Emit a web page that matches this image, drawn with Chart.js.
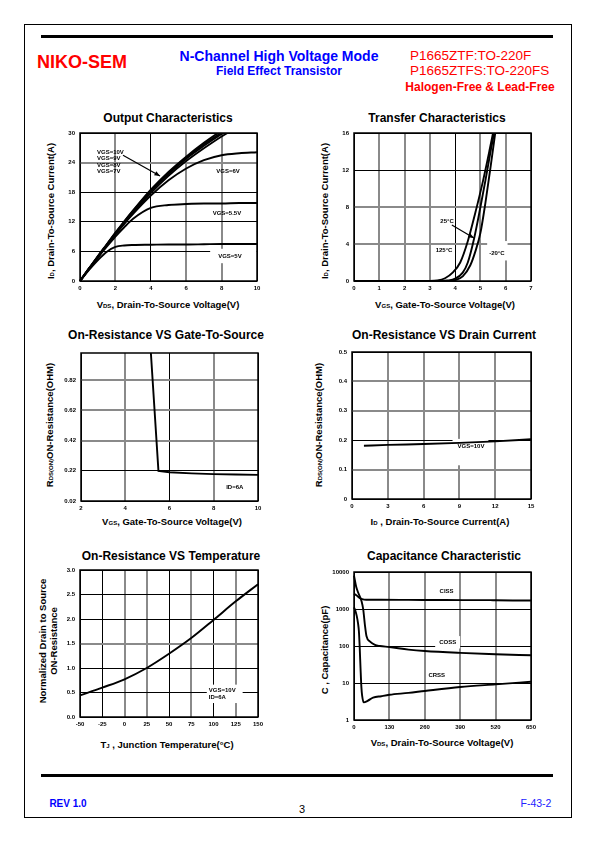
<!DOCTYPE html>
<html>
<head>
<meta charset="utf-8">
<script src="https://cdn.jsdelivr.net/npm/chart.js@4.4.1/dist/chart.umd.min.js"></script>
<style>
body{margin:0;background:#fff;width:595px;height:842px;position:relative;overflow:hidden;font-family:"Liberation Sans",Arial,sans-serif;color:#000}
.a{position:absolute;white-space:nowrap;transform:translate(-50%,-50%);line-height:1}
.v{transform:translate(-50%,-50%) rotate(-90deg)}
.ttl{font-weight:bold;font-size:12px}
.ax{font-weight:bold;font-size:9.5px}
.ax small{font-size:6px}
canvas{position:absolute}
.rule{position:absolute;left:41px;width:512px;height:3px;background:#000}
</style>
</head>
<body>
<div style="position:absolute;left:24px;top:24px;width:546px;height:792px;border:1px solid #000"></div>
<div class="rule" style="top:35px"></div>
<div class="rule" style="top:774px"></div>

<div class="a" style="left:82px;top:62px;color:#f00;font-weight:bold;font-size:18px">NIKO-SEM</div>
<div class="a" style="left:279px;top:56px;color:#00f;font-weight:bold;font-size:14px">N-Channel High Voltage Mode</div>
<div class="a" style="left:279px;top:71px;color:#00f;font-weight:bold;font-size:12px">Field Effect Transistor</div>
<div class="a" style="left:410px;top:56px;color:#f00;font-size:13.5px;transform:translate(0,-50%)">P1665ZTF:TO-220F</div>
<div class="a" style="left:410px;top:71px;color:#f00;font-size:13.5px;transform:translate(0,-50%)">P1665ZTFS:TO-220FS</div>
<div class="a" style="left:480px;top:87px;color:#f00;font-weight:bold;font-size:12px">Halogen-Free &amp; Lead-Free</div>

<div class="a ttl" style="left:168px;top:118px">Output Characteristics</div>
<div class="a ttl" style="left:437px;top:118px">Transfer Characteristics</div>
<div class="a ttl" style="left:166px;top:335px">On-Resistance VS Gate-To-Source</div>
<div class="a ttl" style="left:444px;top:335px">On-Resistance VS Drain Current</div>
<div class="a ttl" style="left:171px;top:556px">On-Resistance VS Temperature</div>
<div class="a ttl" style="left:444px;top:556px">Capacitance Characteristic</div>

<div class="a ax v" style="left:51px;top:211px">I<small>D</small>, Drain-To-Source Current(A)</div>
<div class="a ax" style="left:168px;top:305px">V<small>DS</small>, Drain-To-Source Voltage(V)</div>
<div class="a ax v" style="left:325px;top:211px">I<small>D</small>, Drain-To-Source Current(A)</div>
<div class="a ax" style="left:445px;top:305px">V<small>GS</small>, Gate-To-Source Voltage(V)</div>
<div class="a ax v" style="left:50px;top:425px">R<small>DS(ON)</small>ON-Resistance(OHM)</div>
<div class="a ax" style="left:172px;top:522px">V<small>GS</small>, Gate-To-Source Voltage(V)</div>
<div class="a ax v" style="left:319px;top:425px">R<small>DS(ON)</small>ON-Resistance(OHM)</div>
<div class="a ax" style="left:440px;top:522px">I<small>D</small> , Drain-To-Source Current(A)</div>
<div class="a ax v" style="left:43px;top:641px">Normalized Drain to Source</div>
<div class="a ax v" style="left:54px;top:641px">ON-Resistance</div>
<div class="a ax" style="left:167px;top:745px">T<small>J</small> , Junction Temperature(°C)</div>
<div class="a ax v" style="left:325px;top:650px">C , Capacitance(pF)</div>
<div class="a ax" style="left:442px;top:743px">V<small>DS</small>, Drain-To-Source Voltage(V)</div>

<canvas id="c1"></canvas>
<canvas id="c2"></canvas>
<canvas id="c3"></canvas>
<canvas id="c4"></canvas>
<canvas id="c5"></canvas>
<canvas id="c6"></canvas>

<div class="a" style="left:68px;top:804px;color:#00f;font-weight:bold;font-size:10px">REV 1.0</div>
<div class="a" style="left:302px;top:809px;font-size:11px">3</div>
<div class="a" style="left:536px;top:803px;color:#22f;font-size:10.5px">F-43-2</div>

<script>
// Output Characteristics
const outVds = [0, 0.5, 1, 1.5, 2, 2.5, 3, 4, 5, 6, 7, 8, 9, 10];
const outVgs10 = [0, 2.5, 5.0, 7.4, 9.8, 12.1, 14.3, 18.5, 22.1, 25.2, 28.0, 30.5, 32.8, 35.0];
const outVgs9 = [0, 2.5, 4.9, 7.3, 9.7, 12.0, 14.2, 18.3, 21.9, 25.0, 27.7, 30.1, 32.4, 34.6];
const outVgs8 = [0, 2.5, 4.9, 7.3, 9.6, 11.9, 14.1, 18.2, 21.7, 24.8, 27.4, 29.8, 32.0, 34.2];
const outVgs7 = [0, 2.4, 4.8, 7.2, 9.5, 11.7, 13.8, 17.8, 21.3, 24.3, 26.9, 29.3, 31.4, 33.5];
const outVgs6 = [0, 2.4, 4.8, 7.2, 9.5, 11.6, 13.6, 17.3, 20.4, 22.8, 24.5, 25.5, 25.9, 26.1];
const outVgs55 = [0, 2.4, 4.7, 6.9, 9.0, 10.9, 12.6, 14.8, 15.4, 15.6, 15.7, 15.7, 15.8, 15.8];
const outVgs5 = [0, 2.2, 4.2, 5.9, 6.9, 7.2, 7.3, 7.35, 7.4, 7.4, 7.45, 7.5, 7.5, 7.5];
const outXTicks = [0, 2, 4, 6, 8, 10];
const outXLabels = ['0', '2', '4', '6', '8', '10'];
const outYTicks = [0, 6, 12, 18, 24, 30];
const outYLabels = ['0', '6', '12', '18', '24', '30'];

// Transfer Characteristics
const trV125 = [0, 3.0, 3.3, 3.6, 3.9, 4.2, 4.5, 4.8, 5.1, 5.35, 5.52];
const trI125 = [0, 0, 0.05, 0.3, 0.9, 2.0, 4.3, 7.4, 10.8, 14.0, 16.3];
const trV25 = [0, 3.4, 3.7, 4.0, 4.3, 4.5, 4.75, 5.0, 5.2, 5.4, 5.56];
const trI25 = [0, 0, 0.05, 0.25, 0.9, 2.0, 4.6, 8.0, 10.9, 14.0, 16.3];
const trVm20 = [0, 3.7, 4.0, 4.3, 4.6, 4.8, 5.0, 5.2, 5.4, 5.6];
const trIm20 = [0, 0, 0.1, 0.5, 1.7, 3.2, 5.2, 8.5, 12.3, 16.3];
const trXTicks = [0, 1, 2, 3, 4, 5, 6, 7];
const trXLabels = ['0', '1', '2', '3', '4', '5', '6', '7'];
const trYTicks = [0, 4, 8, 12, 16];
const trYLabels = ['0', '4', '8', '12', '16'];

// On-Resistance VS Gate-To-Source
const rgVgs = [5.15, 5.5, 6, 7, 8, 9, 10];
const rgRds = [1.02, 0.22, 0.21, 0.203, 0.198, 0.195, 0.193];
const rgXTicks = [2, 4, 6, 8, 10];
const rgXLabels = ['2', '4', '6', '8', '10'];
const rgYTicks = [0.02, 0.22, 0.42, 0.62, 0.82];
const rgYLabels = ['0.02', '0.22', '0.42', '0.62', '0.82'];
const rgYMax = 1.0;

// On-Resistance VS Drain Current
const rdId = [1, 3, 6, 9, 12, 15];
const rdRds = [0.181, 0.184, 0.187, 0.191, 0.196, 0.203];
const rdXTicks = [0, 3, 6, 9, 12, 15];
const rdXLabels = ['0', '3', '6', '9', '12', '15'];
const rdYTicks = [0, 0.1, 0.2, 0.3, 0.4, 0.5];
const rdYLabels = ['0', '0.1', '0.2', '0.3', '0.4', '0.5'];

// On-Resistance VS Temperature
const rtTj = [-50, -25, 0, 25, 50, 75, 100, 125, 150];
const rtNorm = [0.44, 0.6, 0.77, 1.0, 1.29, 1.61, 1.98, 2.36, 2.71];
const rtXTicks = [-50, -25, 0, 25, 50, 75, 100, 125, 150];
const rtXLabels = ['-50', '-25', '0', '25', '50', '75', '100', '125', '150'];
const rtYTicks = [0, 0.5, 1, 1.5, 2, 2.5, 3];
const rtYLabels = ['0.0', '0.5', '1.0', '1.5', '2.0', '2.5', '3.0'];

// Capacitance Characteristic
const cissV = [0, 10, 20, 30, 45, 100, 200, 300, 400, 500, 520, 650];
const cissC = [2600, 2300, 2000, 1850, 1780, 1770, 1760, 1750, 1740, 1740, 1720, 1700];
const cossV = [0, 8, 16, 28, 34, 40, 46, 59, 77, 95, 130, 200, 260, 390, 520, 650];
const cossC = [8000, 4000, 2700, 1600, 960, 375, 183, 131, 107, 100, 94, 80, 73, 65, 60, 56];
const crssV = [0, 5, 10, 15, 18, 21, 24, 27, 30, 36, 50, 70, 100, 130, 200, 260, 390, 520, 650];
const crssC = [1100, 900, 650, 400, 250, 90, 25, 8, 4.5, 3.0, 3.3, 4.0, 4.4, 4.8, 5.4, 6.1, 7.8, 9.2, 10.8];
const capXTicks = [0, 130, 260, 390, 520, 650];
const capXLabels = ['0', '130', '260', '390', '520', '650'];
const capYTicks = [1, 10, 100, 1000, 10000];
const capYLabels = ['1', '10', '100', '1000', '10000'];

const FONT = '"Liberation Sans", Arial, sans-serif';
const PAD = {l: 40, t: 10, r: 14, b: 16};
const GRID = {g: ['#8a8a8a', 2], k: ['#000', 1]};

// Rahmen, Beschriftungen und Pfeile im Plotbereich
const decor = {
    id: 'decor',
    beforeDatasetsDraw(chart, args, o) {
        const {ctx, chartArea: a, scales: {x, y}} = chart;
        ctx.save();
        ctx.font = 'bold 6px ' + FONT;
        ctx.textBaseline = 'middle';
        (o.notes || []).forEach(n => {
            const px = x.getPixelForValue(n.x), py = y.getPixelForValue(n.y);
            const lh = n.lh || 6.4;
            const w = Math.max(...n.t.map(s => ctx.measureText(s).width));
            const left = n.al === 'left' ? px : px - w / 2;
            if (n.bx) {
                ctx.fillStyle = '#fff';
                ctx.fillRect(left - n.bx[0], py - lh / 2 - n.bx[1],
                    w + n.bx[0] + n.bx[2], lh * n.t.length + n.bx[1] + n.bx[3]);
            }
            ctx.fillStyle = '#000';
            ctx.textAlign = 'left';
            n.t.forEach((s, i) => ctx.fillText(s, left, py + i * lh));
        });
        ctx.strokeStyle = '#000';
        ctx.lineWidth = 1.5;
        ctx.strokeRect(a.left, a.top, a.right - a.left, a.bottom - a.top);
        ctx.restore();
    },
    afterDatasetsDraw(chart, args, o) {
        const {ctx, scales: {x, y}} = chart;
        (o.arrows || []).forEach(r => {
            const x1 = x.getPixelForValue(r[0]), y1 = y.getPixelForValue(r[1]);
            const x2 = x.getPixelForValue(r[2]), y2 = y.getPixelForValue(r[3]);
            const ang = Math.atan2(y2 - y1, x2 - x1);
            ctx.save();
            ctx.strokeStyle = '#000';
            ctx.fillStyle = '#000';
            ctx.lineWidth = 1.2;
            ctx.beginPath();
            ctx.moveTo(x1, y1);
            ctx.lineTo(x2, y2);
            ctx.stroke();
            ctx.beginPath();
            ctx.moveTo(x2, y2);
            ctx.lineTo(x2 - 6 * Math.cos(ang - 0.4), y2 - 6 * Math.sin(ang - 0.4));
            ctx.lineTo(x2 - 6 * Math.cos(ang + 0.4), y2 - 6 * Math.sin(ang + 0.4));
            ctx.closePath();
            ctx.fill();
            ctx.restore();
        });
    }
};

function axisOpts(a, isX) {
    const st = i => GRID[a.grid[i] || 'k'];
    return {
        type: a.type || 'linear',
        min: a.values[0],
        max: a.max !== undefined ? a.max : a.values[a.values.length - 1],
        afterBuildTicks: s => { s.ticks = a.values.map(v => ({value: v})); },
        afterFit: s => { if (isX) s.height = PAD.b; else s.width = PAD.l; },
        ticks: {
            autoSkip: false, maxRotation: 0, minRotation: 0,
            padding: isX ? 4 : 5, color: '#000',
            font: {family: FONT, size: 6, weight: 'bold'},
            callback: (v, i) => a.labels[i]
        },
        grid: {drawTicks: false, color: c => st(c.index)[0], lineWidth: c => st(c.index)[1]},
        border: {display: false}
    };
}

function plot(id, box, xa, ya, series, deco) {
    const cv = document.getElementById(id);
    const w = box.r - box.l + PAD.l + PAD.r, h = box.b - box.t + PAD.t + PAD.b;
    cv.width = w;
    cv.height = h;
    Object.assign(cv.style, {left: (box.l - PAD.l) + 'px', top: (box.t - PAD.t) + 'px', width: w + 'px', height: h + 'px'});
    return new Chart(cv, {
        type: 'line',
        data: {
            datasets: series.map(s => ({
                data: s.x.map((v, i) => ({x: v, y: s.y[i]})),
                borderColor: '#000',
                borderWidth: 1.9,
                pointRadius: 0,
                cubicInterpolationMode: s.sharp ? 'default' : 'monotone',
                tension: 0,
                clip: {left: 3, top: 0, right: 0, bottom: 3}
            }))
        },
        options: {
            responsive: false,
            animation: false,
            devicePixelRatio: 1,
            layout: {padding: {left: 0, top: PAD.t, right: PAD.r, bottom: 0}},
            scales: {x: axisOpts(xa, true), y: axisOpts(ya, false)},
            plugins: {legend: {display: false}, tooltip: {enabled: false}, decor: deco || {}}
        },
        plugins: [decor]
    });
}

// Output Characteristics
plot('c1', {l: 80, t: 133, r: 257, b: 281},
    {values: outXTicks, labels: outXLabels, grid: 'kgkggk'},
    {values: outYTicks, labels: outYLabels, grid: 'kkkkgk'},
    [outVgs10, outVgs9, outVgs8, outVgs7, outVgs6, outVgs55, outVgs5].map(y => ({x: outVds, y: y})),
    {
        notes: [
            {t: ['VGS=10V', 'VGS=9V', 'VGS=8V', 'VGS=7V'], x: 0.96, y: 26.1, al: 'left', lh: 6.5},
            {t: ['VGS=6V'], x: 8.36, y: 22.3},
            {t: ['VGS=5.5V'], x: 8.3, y: 13.8},
            {t: ['VGS=5V'], x: 8.47, y: 5.07, bx: [8, 4, 15, 4]}
        ],
        arrows: [[2.43, 25.5, 4.52, 21.3]]
    });

// Transfer Characteristics
plot('c2', {l: 354, t: 133, r: 531, b: 281},
    {values: trXTicks, labels: trXLabels, grid: 'kgggkggk'},
    {values: trYTicks, labels: trYLabels, grid: 'kggkk'},
    [{x: trV125, y: trI125}, {x: trV25, y: trI25}, {x: trVm20, y: trIm20}],
    {
        notes: [
            {t: ['25°C'], x: 3.68, y: 6.4},
            {t: ['125°C'], x: 3.56, y: 3.35},
            {t: ['-20°C'], x: 5.65, y: 3.0, bx: [2, 9, 3, 4]}
        ],
        arrows: [[3.87, 6.05, 4.74, 4.65]]
    });

// On-Resistance VS Gate-To-Source
plot('c3', {l: 81, t: 353, r: 258, b: 501},
    {values: rgXTicks, labels: rgXLabels, grid: 'kgkgk'},
    {values: rgYTicks, labels: rgYLabels, grid: 'kkggg', max: rgYMax},
    [{x: rgVgs, y: rgRds, sharp: true}],
    {notes: [{t: ['ID=6A'], x: 8.95, y: 0.111}]});

// On-Resistance VS Drain Current
plot('c4', {l: 352, t: 352, r: 531, b: 499},
    {values: rdXTicks, labels: rdXLabels, grid: 'kggggk'},
    {values: rdYTicks, labels: rdYLabels, grid: 'kgkggk'},
    [{x: rdId, y: rdRds}],
    {notes: [{t: ['VGS=10V'], x: 9.97, y: 0.18, bx: [5, 4, 4, 16]}]});

// On-Resistance VS Temperature
plot('c5', {l: 80, t: 570, r: 258, b: 717},
    {values: rtXTicks, labels: rtXLabels, grid: 'kkggkgkgk'},
    {values: rtYTicks, labels: rtYLabels, grid: 'kkkgkkk'},
    [{x: rtTj, y: rtNorm}],
    {notes: [{t: ['VGS=10V', 'ID=6A'], x: 94.7, y: 0.536, al: 'left', lh: 6.2, bx: [2, 3, 7, 3]}]});

// Capacitance Characteristic
plot('c6', {l: 354, t: 572, r: 531, b: 720},
    {values: capXTicks, labels: capXLabels, grid: 'kggggk'},
    {type: 'logarithmic', values: capYTicks, labels: capYLabels, grid: 'kkkkk'},
    [{x: cissV, y: cissC}, {x: cossV, y: cossC}, {x: crssV, y: crssC}],
    {
        notes: [
            {t: ['CISS'], x: 340, y: 3000},
            {t: ['COSS'], x: 344, y: 126, bx: [4, 3, 4, 3]},
            {t: ['CRSS'], x: 304, y: 16}
        ]
    });
</script>
</body>
</html>
